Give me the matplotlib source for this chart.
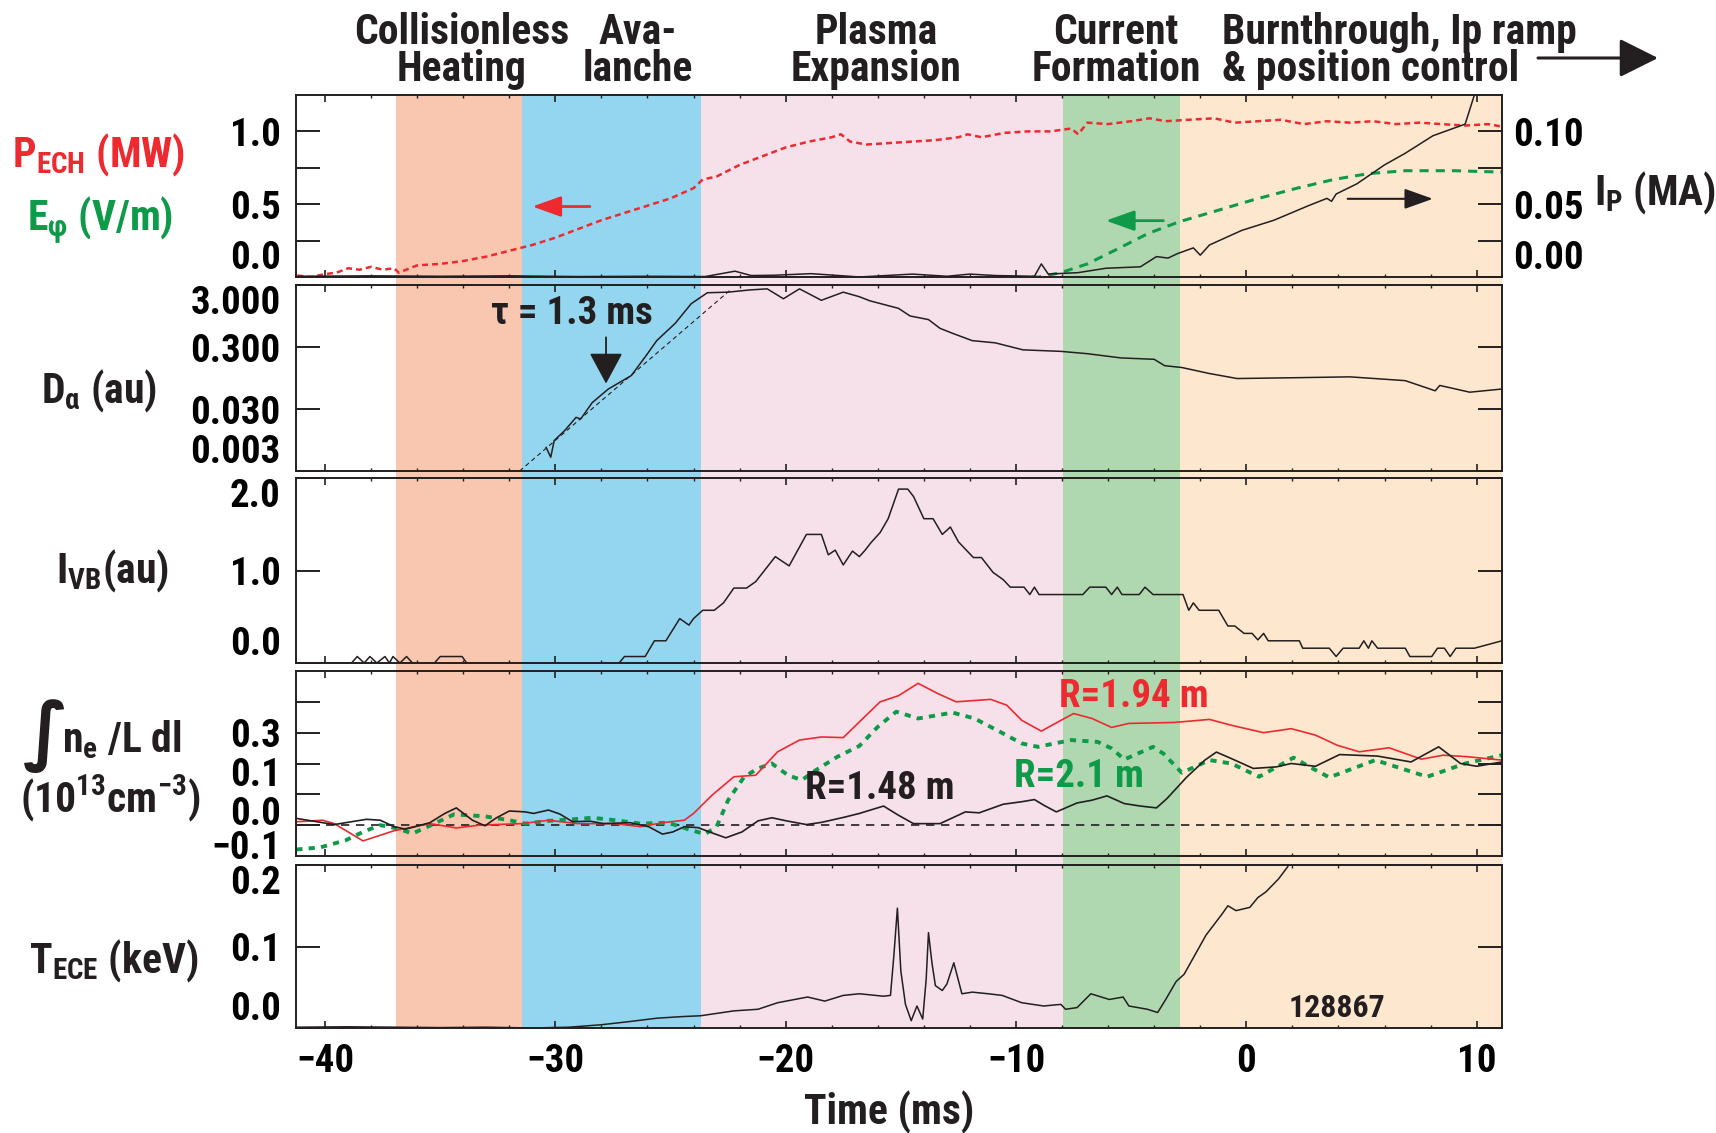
import matplotlib
matplotlib.use("Agg")
import matplotlib.pyplot as plt
from matplotlib.ticker import MultipleLocator, NullLocator
from matplotlib.patches import FancyArrowPatch

# ---------------- data (time in ms) ----------------
phase_edges = [-36.92, -31.45, -23.68, -7.97, -2.90]
phase_colors = ["#f9c6af", "#94d6f0", "#f6e0ea", "#b0d8b0", "#fee7cf"]

pech_t = [-41.2, -40.6, -40.0, -39.5, -39.0, -38.5, -38.0, -37.5, -37.0, -36.8,
          -36.0, -35.0, -34.0, -33.0, -32.0, -31.0, -30.0, -29.0, -28.0, -27.0,
          -26.0, -25.0, -24.0, -23.6, -23.0, -22.0, -21.0, -20.0, -19.0, -18.0,
          -17.6, -17.2, -16.5, -15.5, -14.5, -13.5, -12.5, -12.1, -11.5, -10.5,
          -9.5, -8.5, -7.6, -7.3, -6.9, -6.0, -5.0, -4.2, -3.5, -2.5,
          -1.4, -0.5, 0.5, 1.5, 2.5, 3.5, 4.5, 5.5, 6.5, 7.5,
          8.5, 9.5, 10.5, 11.2]
pech_v = [0.01, 0.0, 0.02, 0.03, 0.06, 0.05, 0.07, 0.05, 0.06, 0.03,
          0.08, 0.09, 0.11, 0.14, 0.18, 0.22, 0.27, 0.33, 0.39, 0.44,
          0.49, 0.54, 0.61, 0.67, 0.69, 0.77, 0.83, 0.89, 0.93, 0.96,
          0.98, 0.93, 0.91, 0.92, 0.93, 0.94, 0.96, 0.98, 0.96, 0.99,
          1.00, 1.00, 1.02, 0.98, 1.06, 1.05, 1.07, 1.09, 1.07, 1.08,
          1.09, 1.06, 1.07, 1.08, 1.05, 1.07, 1.06, 1.07, 1.05, 1.06,
          1.05, 1.04, 1.05, 1.03]

ephi_t = [-9.3, -9.0, -8.05, -6.9, -5.5, -4.25, -2.9, -1.4, 0.3, 2.2, 3.8, 5.3, 6.9, 9.0, 11.2]
ephi_v = [0.0, 0.0, 0.03, 0.09, 0.20, 0.30, 0.38, 0.45, 0.53, 0.61, 0.67, 0.71, 0.73, 0.73, 0.72]

ip_t = [-41.2, -38.0, -35.0, -32.0, -29.0, -26.0, -23.5, -22.2, -21.5, -20.5,
        -18.9, -17.5, -16.8, -14.5, -13.0, -12.0, -10.9, -9.2, -8.9, -8.6,
        -7.3, -6.1, -4.6, -3.9, -3.4, -3.0, -2.3, -2.0, -1.6, -0.2,
        1.2, 2.7, 3.5, 3.7, 3.9, 4.8, 6.0, 6.9, 8.1, 9.5,
        9.9, 10.3]
ip_v = [0.0005, 0.0008, 0.0005, 0.0008, 0.0003, 0.0005, 0.0003, 0.004, 0.001, 0.0012,
        0.0023, 0.0008, 0.0, 0.002, 0.0005, 0.002, 0.001, 0.0005, 0.009, 0.002,
        0.003, 0.006, 0.007, 0.014, 0.013, 0.016, 0.020, 0.015, 0.022, 0.032,
        0.039, 0.049, 0.054, 0.052, 0.057, 0.064, 0.077, 0.085, 0.097, 0.105,
        0.125, 0.14]

da_t = [-30.4, -30.2, -30.05, -29.6, -29.1, -28.9, -28.4, -27.7, -26.7, -26.05,
        -25.6, -24.8, -24.1, -23.4, -22.5, -21.55, -20.8, -20.1, -19.4, -18.45,
        -17.5, -16.8, -16.35, -15.1, -14.6, -13.8, -13.3, -12.7, -11.9, -10.9,
        -9.7, -8.05, -6.9, -5.45, -4.0, -3.55, -2.8, -1.6, -0.4, 2.2,
        4.5, 6.9, 8.2, 8.4, 9.7, 11.1]
da_v = [0.0072, 0.005, 0.0093, 0.0134, 0.022, 0.0207, 0.038, 0.063, 0.104, 0.22,
        0.38, 0.72, 1.5, 2.25, 2.3, 2.5, 2.6, 1.8, 2.6, 1.7,
        2.3, 1.94, 1.67, 1.26, 0.95, 0.83, 0.60, 0.49, 0.38, 0.35,
        0.27, 0.255, 0.234, 0.20, 0.19, 0.15, 0.14, 0.112, 0.093, 0.096,
        0.099, 0.086, 0.059, 0.072, 0.056, 0.063]
da_fit_t = [-31.55, -22.4]
da_fit_v = [0.003, 2.5]

ivb_t = [-41.2, -38.85, -38.6, -38.3, -38.05, -37.75, -37.4, -37.2, -37.05, -36.75,
         -36.46, -36.2, -35.25, -35.0, -34.05, -33.85, -27.23, -27.0, -26.1, -25.7,
         -25.2, -24.6, -24.2, -24.0, -23.6, -23.1, -22.7, -22.25, -21.7, -21.3,
         -20.45, -19.85, -19.1, -18.45, -18.15, -17.85, -17.5, -17.1, -16.8, -16.55,
         -16.3, -15.9, -15.55, -15.1, -14.7, -14.45, -14.0, -13.6, -13.2, -12.85,
         -12.5, -11.85, -11.5, -11.0, -10.55, -10.25, -9.65, -9.4, -9.2, -9.0,
         -7.1, -6.8, -6.1, -5.85, -5.6, -5.4, -4.65, -4.4, -4.05, -2.75,
         -2.5, -2.3, -2.05, -1.2, -0.8, -0.5, -0.1, 0.25, 0.5, 0.75,
         0.95, 2.3, 2.45, 3.6, 3.9, 4.2, 4.9, 5.1, 5.3, 5.45,
         5.7, 6.9, 7.1, 8.05, 8.3, 8.6, 8.85, 9.1, 9.9, 11.1]
ivb_v = [0.0, 0.0, 0.07, 0.0, 0.07, 0.0, 0.07, 0.0, 0.07, 0.0,
         0.07, 0.0, 0.0, 0.07, 0.07, 0.0, 0.0, 0.07, 0.07, 0.24,
         0.24, 0.48, 0.41, 0.48, 0.57, 0.57, 0.65, 0.81, 0.81, 0.88,
         1.15, 1.05, 1.39, 1.39, 1.17, 1.22, 1.06, 1.21, 1.15, 1.22,
         1.30, 1.41, 1.56, 1.88, 1.88, 1.80, 1.56, 1.56, 1.39, 1.47,
         1.31, 1.14, 1.14, 0.98, 0.90, 0.82, 0.82, 0.74, 0.82, 0.74,
         0.74, 0.82, 0.82, 0.74, 0.82, 0.74, 0.74, 0.82, 0.74, 0.74,
         0.57, 0.65, 0.57, 0.57, 0.40, 0.40, 0.32, 0.32, 0.25, 0.32,
         0.24, 0.24, 0.16, 0.16, 0.07, 0.16, 0.16, 0.24, 0.16, 0.24,
         0.16, 0.16, 0.07, 0.07, 0.16, 0.16, 0.07, 0.16, 0.16, 0.24]

ne148_t = [-41.25, -39.6, -38.2, -37.6, -37.0, -36.5, -35.45, -34.8, -34.3, -33.6,
           -33.05, -32.6, -32.0, -31.3, -30.95, -30.3, -29.8, -29.25, -28.5, -27.9,
           -26.75, -25.95, -25.35, -24.9, -24.4, -23.8, -23.2, -22.6, -21.9, -21.2,
           -20.6, -19.9, -19.1, -18.45, -17.5, -16.8, -15.75, -15.1, -14.45, -13.3,
           -12.2, -11.6, -10.55, -9.75, -9.2, -8.8, -8.25, -7.35, -6.7, -6.05,
           -5.3, -4.6, -3.9, -3.45, -2.6, -1.8, -1.3, -0.65, 0.3, 1.3,
           1.95, 3.0, 4.05, 5.7, 7.15, 8.35, 9.3, 10.0, 11.1]
ne148_v = [0.022, 0.002, 0.019, 0.016, -0.005, -0.013, 0.008, 0.038, 0.056, 0.016,
           -0.002, 0.022, 0.046, 0.043, 0.038, 0.049, 0.036, 0.011, 0.013, 0.005,
           0.008, -0.005, -0.029, -0.022, -0.005, -0.008, -0.025, -0.041, -0.022, 0.014,
           0.024, 0.013, 0.002, 0.009, 0.025, 0.038, 0.062, 0.032, 0.005, 0.005,
           0.043, 0.040, 0.068, 0.076, 0.083, 0.065, 0.043, 0.072, 0.081, 0.095,
           0.070, 0.062, 0.056, 0.086, 0.155, 0.211, 0.237, 0.216, 0.184, 0.189,
           0.200, 0.191, 0.229, 0.224, 0.205, 0.254, 0.200, 0.191, 0.205]

ne194_t = [-41.25, -40.1, -39.6, -38.35, -37.0, -35.45, -34.3, -33.3, -31.45, -30.3,
           -29.05, -27.4, -26.3, -25.35, -24.4, -24.0, -23.2, -22.25, -21.3, -20.35,
           -19.4, -18.45, -17.5, -16.8, -15.9, -15.1, -14.25, -13.4, -12.6, -11.1,
           -10.4, -9.75, -8.9, -8.05, -7.5, -6.7, -5.85, -5.1, -3.15, -1.6,
           -0.65, 0.75, 1.95, 3.0, 3.95, 4.9, 6.2, 7.6, 8.55, 9.6,
           11.1]
ne194_v = [0.011, 0.016, 0.005, -0.051, -0.018, 0.005, -0.009, 0.0, 0.005, 0.016,
           0.005, 0.005, -0.005, 0.008, 0.016, 0.038, 0.097, 0.157, 0.162, 0.238,
           0.276, 0.286, 0.284, 0.335, 0.400, 0.420, 0.460, 0.427, 0.400, 0.408,
           0.389, 0.340, 0.305, 0.340, 0.362, 0.346, 0.317, 0.330, 0.333, 0.343,
           0.324, 0.300, 0.313, 0.292, 0.259, 0.238, 0.251, 0.214, 0.227, 0.222,
           0.211]

ne21_t = [-41.25, -40.2, -39.1, -38.3, -37.6, -36.9, -36.2, -35.4, -34.4, -33.1,
          -32.0, -31.3, -30.3, -29.4, -28.4, -27.4, -26.3, -25.1, -24.2, -23.5,
          -23.0, -22.5, -21.8, -21.2, -20.6, -19.9, -19.3, -18.7, -17.75, -16.8,
          -16.0, -15.2, -14.25, -12.75, -11.8, -10.7, -9.75, -9.05, -7.6, -6.45,
          -5.85, -5.3, -4.05, -3.6, -2.8, -1.6, -0.65, 0.55, 2.05, 2.75,
          3.6, 5.6, 7.85, 9.5, 11.1]
ne21_v = [-0.079, -0.072, -0.049, -0.020, 0.0, -0.010, -0.027, 0.0, 0.035, 0.029,
          0.016, 0.005, 0.014, 0.018, 0.024, 0.016, 0.005, 0.008, -0.014, -0.029,
          -0.005, 0.081, 0.157, 0.184, 0.200, 0.162, 0.146, 0.178, 0.222, 0.257,
          0.319, 0.368, 0.346, 0.365, 0.346, 0.303, 0.265, 0.254, 0.276, 0.270,
          0.249, 0.213, 0.254, 0.232, 0.170, 0.211, 0.200, 0.157, 0.219, 0.189,
          0.155, 0.211, 0.157, 0.200, 0.227]

tece_t = [-41.2, -39.0, -37.0, -35.0, -33.0, -31.0, -29.4, -28.0, -26.75, -25.6,
          -24.5, -23.7, -22.25, -21.2, -20.35, -19.05, -18.3, -17.5, -16.8, -15.75,
          -15.45, -15.3, -15.15, -15.0, -14.8, -14.55, -14.3, -14.05, -13.9, -13.8,
          -13.65, -13.5, -13.2, -13.0, -12.7, -12.35, -11.9, -11.2, -10.6, -9.75,
          -8.8, -8.05, -7.85, -7.35, -6.75, -5.95, -5.35, -5.1, -4.3, -3.85,
          -3.5, -3.05, -2.7, -1.75, -1.05, -0.8, -0.45, 0.15, 0.5, 0.85,
          1.4, 1.8, 2.3]
tece_v = [0.001, 0.0015, 0.001, 0.0005, 0.001, 0.0, 0.001, 0.004, 0.008, 0.012,
          0.014, 0.015, 0.021, 0.023, 0.031, 0.038, 0.033, 0.040, 0.042, 0.039,
          0.040, 0.090, 0.147, 0.070, 0.029, 0.009, 0.027, 0.011, 0.060, 0.117,
          0.080, 0.052, 0.046, 0.054, 0.080, 0.042, 0.044, 0.042, 0.040, 0.031,
          0.027, 0.029, 0.023, 0.025, 0.042, 0.035, 0.038, 0.027, 0.023, 0.019,
          0.035, 0.057, 0.066, 0.114, 0.140, 0.150, 0.144, 0.148, 0.160, 0.167,
          0.183, 0.198, 0.230]

# ---------------- style ----------------
FONT = "Roboto Condensed"
plt.rcParams["font.family"] = [FONT, "DejaVu Sans"]
plt.rcParams["font.weight"] = "bold"
plt.rcParams["mathtext.fontset"] = "custom"
plt.rcParams["mathtext.rm"] = f"{FONT}:bold"
plt.rcParams["mathtext.it"] = f"{FONT}:bold"
plt.rcParams["mathtext.bf"] = f"{FONT}:bold"
plt.rcParams["axes.unicode_minus"] = True

INK = "#231f20"
RED = "#ec2a2f"
GREEN = "#0f9a4a"
FS_TICK, FS_LAB, FS_HEAD, FS_ANN = 28, 30, 30, 28
plt.rcParams["text.color"] = INK

W, H = 1716, 1133
LEFT, RIGHT = 296, 1502
PANELS = [(95, 277), (285, 471), (478, 663), (671, 856), (865, 1028)]
XLIM = (-41.26, 11.1)

fig = plt.figure(figsize=(W / 100, H / 100), dpi=100)


def fx(px):
    return px / W


def fy(py):
    return 1 - py / H


# phase shading behind all panels (continuous through the gaps)
bg = fig.add_axes([fx(LEFT), fy(PANELS[-1][1]), fx(RIGHT) - fx(LEFT),
                   fy(PANELS[0][0]) - fy(PANELS[-1][1])], zorder=-1)
bg.set_xlim(XLIM)
bg.axis("off")
edges = phase_edges + [XLIM[1]]
for a, b, c in zip(edges[:-1], edges[1:], phase_colors):
    bg.axvspan(a, b, color=c, lw=0)

axes = []
for top, bot in PANELS:
    ax = fig.add_axes([fx(LEFT), fy(bot), fx(RIGHT) - fx(LEFT), fy(top) - fy(bot)],
                      sharex=axes[0] if axes else None)
    ax.set_facecolor("none")
    for sp in ax.spines.values():
        sp.set_linewidth(1.4)
        sp.set_color(INK)
    ax.set_xlim(XLIM)
    ax.set_xticks(range(-40, 11, 10))
    ax.xaxis.set_minor_locator(MultipleLocator(2))
    ax.tick_params(axis="x", which="major", direction="in", length=5, width=1.2,
                   top=True, bottom=True, labelbottom=False, color=INK)
    ax.tick_params(axis="x", which="minor", direction="in", length=2.5, width=1.0,
                   top=True, bottom=True, color=INK)
    ax.tick_params(axis="y", which="major", direction="in", length=17, width=1.4,
                   left=True, right=True, labelsize=FS_TICK, pad=11, color=INK)
    axes.append(ax)
ax1, ax2, ax3, ax4, ax5 = axes

# ---- panel 1: P_ECH, E_phi (left) and Ip (right) ----
ax1.plot(pech_t, pech_v, color=RED, lw=1.8, ls=(0, (2.4, 1.6)))
ax1.plot(ephi_t, ephi_v, color=GREEN, lw=2.2, ls=(0, (3, 2.3)))
ax1.set_ylim(0, 1.25)
ax1.set_yticks([0, 0.25, 0.5, 0.75, 1.0], ["0.0", "", "0.5", "", "1.0"])
ax1.tick_params(axis="y", right=False)
ax1r = ax1.twinx()
ax1r.plot(ip_t, ip_v, color=INK, lw=1.1)
ax1r.set_ylim(0, 0.125)
ax1r.set_yticks([0, 0.025, 0.05, 0.075, 0.1], ["0.00", "", "0.05", "", "0.10"])
ax1r.tick_params(axis="y", direction="in", length=17, width=1.4, labelsize=FS_TICK,
                 pad=8, left=False, right=True, color=INK)
for sp in ax1r.spines.values():
    sp.set_visible(False)
arrow_small = "-|>,head_length=0.7,head_width=0.25"
ax1.annotate("", xy=(-31.0, 0.484), xytext=(-28.5, 0.484),
             arrowprops=dict(arrowstyle=arrow_small, color=RED, lw=2,
                             mutation_scale=25, shrinkA=0, shrinkB=0))
ax1.annotate("", xy=(-6.1, 0.387), xytext=(-3.6, 0.387),
             arrowprops=dict(arrowstyle=arrow_small, color=GREEN, lw=2,
                             mutation_scale=25, shrinkA=0, shrinkB=0))
ax1.annotate("", xy=(8.1, 0.537), xytext=(4.4, 0.537),
             arrowprops=dict(arrowstyle=arrow_small, color=INK, lw=1.5,
                             mutation_scale=25, shrinkA=0, shrinkB=0))

# ---- panel 2: D_alpha (log) ----
ax2.set_yscale("log")
ax2.plot(da_t, da_v, color=INK, lw=1.1)
ax2.plot(da_fit_t, da_fit_v, color=INK, lw=0.8, ls=(0, (4, 3)))
ax2.set_ylim(0.003, 3.0)
ax2.set_yticks([0.003, 0.03, 0.3, 3.0], ["0.003", "0.030", "0.300", "3.000"])
ax2.yaxis.set_minor_locator(NullLocator())
ax2.text(-29.3, 1.05, "τ = 1.3 ms", fontsize=FS_ANN, ha="center", va="center")
ax2.annotate("", xy=(-27.8, 0.077), xytext=(-27.8, 0.43),
             arrowprops=dict(arrowstyle="-|>,head_length=0.65,head_width=0.35",
                             color=INK, lw=1.3, mutation_scale=30, shrinkA=0, shrinkB=0))

# ---- panel 3: I_VB ----
ax3.plot(ivb_t, ivb_v, color=INK, lw=1.1)
ax3.set_ylim(0, 2.0)
ax3.set_yticks([0, 1, 2], ["0.0", "1.0", "2.0"])

# ---- panel 4: line-integrated density ----
ax4.axhline(0, color=INK, lw=1.2, ls=(0, (5, 4)))
ax4.plot(ne21_t, ne21_v, color=GREEN, lw=2.8, ls=(0, (1.6, 1.6)))
ax4.plot(ne194_t, ne194_v, color=RED, lw=1.2)
ax4.plot(ne148_t, ne148_v, color=INK, lw=1.2)
ax4.set_ylim(-0.1, 0.5)
ax4.yaxis.remove_overlapping_locs = False
ax4.set_yticks([0, 0.1, 0.2, 0.3, 0.4], [""] * 5)
# the reference prints its labels off the tick marks; placed where they appear
ax4.set_yticks([-0.062, 0.049, 0.173, 0.3], ["−0.1", "0.0", "0.1", "0.3"], minor=True)
ax4.tick_params(axis="y", which="minor", length=0, labelsize=FS_TICK, pad=11,
                left=True, right=False)
ax4.text(-4.9, 0.416, "R=1.94 m", color=RED, fontsize=FS_ANN, ha="center", va="center")
ax4.text(-7.25, 0.157, "R=2.1 m", color=GREEN, fontsize=FS_ANN, ha="center", va="center")
ax4.text(-15.9, 0.12, "R=1.48 m", color=INK, fontsize=FS_ANN, ha="center", va="center")

# ---- panel 5: T_ECE ----
ax5.plot(tece_t, tece_v, color=INK, lw=1.1)
ax5.set_ylim(0, 0.2)
ax5.set_yticks([0, 0.1, 0.2], ["0.0", "0.1", "0.2"])
ax5.tick_params(axis="x", which="major", labelbottom=True, labelsize=FS_TICK, pad=11)
ax5.text(3.95, 0.025, "128867", fontsize=23, ha="center", va="center")

# tick labels at the panel edges sit inside the panel
for ax in (ax1, ax1r, ax2, ax3, ax5):
    ticks = ax.yaxis.get_major_ticks()
    ticks[0].label1.set_va("bottom")
    ticks[0].label2.set_va("bottom")
for ax in (ax2, ax3, ax5):
    ticks = ax.yaxis.get_major_ticks()
    ticks[-1].label1.set_va("top")
    ticks[-1].label2.set_va("top")

# ---- left / right axis labels ----
fig.text(fx(99), fy(167), r"P$_{\mathrm{ECH}}$ (MW)", color=RED, fontsize=FS_LAB,
         ha="center", va="baseline")
fig.text(fx(100), fy(230), r"E$_{φ}$ (V/m)", color=GREEN, fontsize=FS_LAB,
         ha="center", va="baseline")
fig.text(fx(99), fy(402), r"D$_{α}$ (au)", fontsize=FS_LAB, ha="center", va="baseline")
fig.text(fx(112), fy(582), r"I$_{\mathrm{VB}}$(au)", fontsize=FS_LAB, ha="center",
         va="baseline")
fig.text(fx(46), fy(736), "∫", fontsize=54, family="DejaVu Sans", ha="center",
         va="center")
fig.text(fx(62), fy(752), r"n$_{\mathrm{e}}$ /L dl", fontsize=FS_LAB, ha="left",
         va="baseline")
fig.text(fx(110), fy(812), r"(10$^{13}$cm$^{−3}$)", fontsize=FS_LAB, ha="center",
         va="baseline")
fig.text(fx(114), fy(972), r"T$_{\mathrm{ECE}}$ (keV)", fontsize=FS_LAB, ha="center",
         va="baseline")
fig.text(fx(1655), fy(205), r"I$_{\mathrm{P}}$ (MA)", fontsize=FS_LAB, ha="center",
         va="baseline")
fig.text(fx(889), fy(1125), "Time (ms)", fontsize=FS_LAB, ha="center", va="baseline")

# ---- phase headings ----
heads = [(462, "Collisionless", "Heating", "center"),
         (638, "Ava-", "lanche", "center"),
         (876, "Plasma", "Expansion", "center"),
         (1116, "Current", "Formation", "center"),
         (1222, "Burnthrough, Ip ramp", "& position control", "left")]
for x, l1, l2, ha in heads:
    fig.text(fx(x), fy(44), l1, fontsize=FS_HEAD, ha=ha, va="baseline")
    fig.text(fx(x), fy(81), l2, fontsize=FS_HEAD, ha=ha, va="baseline")
fig.add_artist(FancyArrowPatch(
    (fx(1538), fy(58)), (fx(1658), fy(58)), transform=fig.transFigure,
    arrowstyle="-|>,head_length=0.6,head_width=0.3", mutation_scale=40,
    color=INK, lw=2.2, shrinkA=0, shrinkB=0))

fig.savefig("out.png", dpi=100)
